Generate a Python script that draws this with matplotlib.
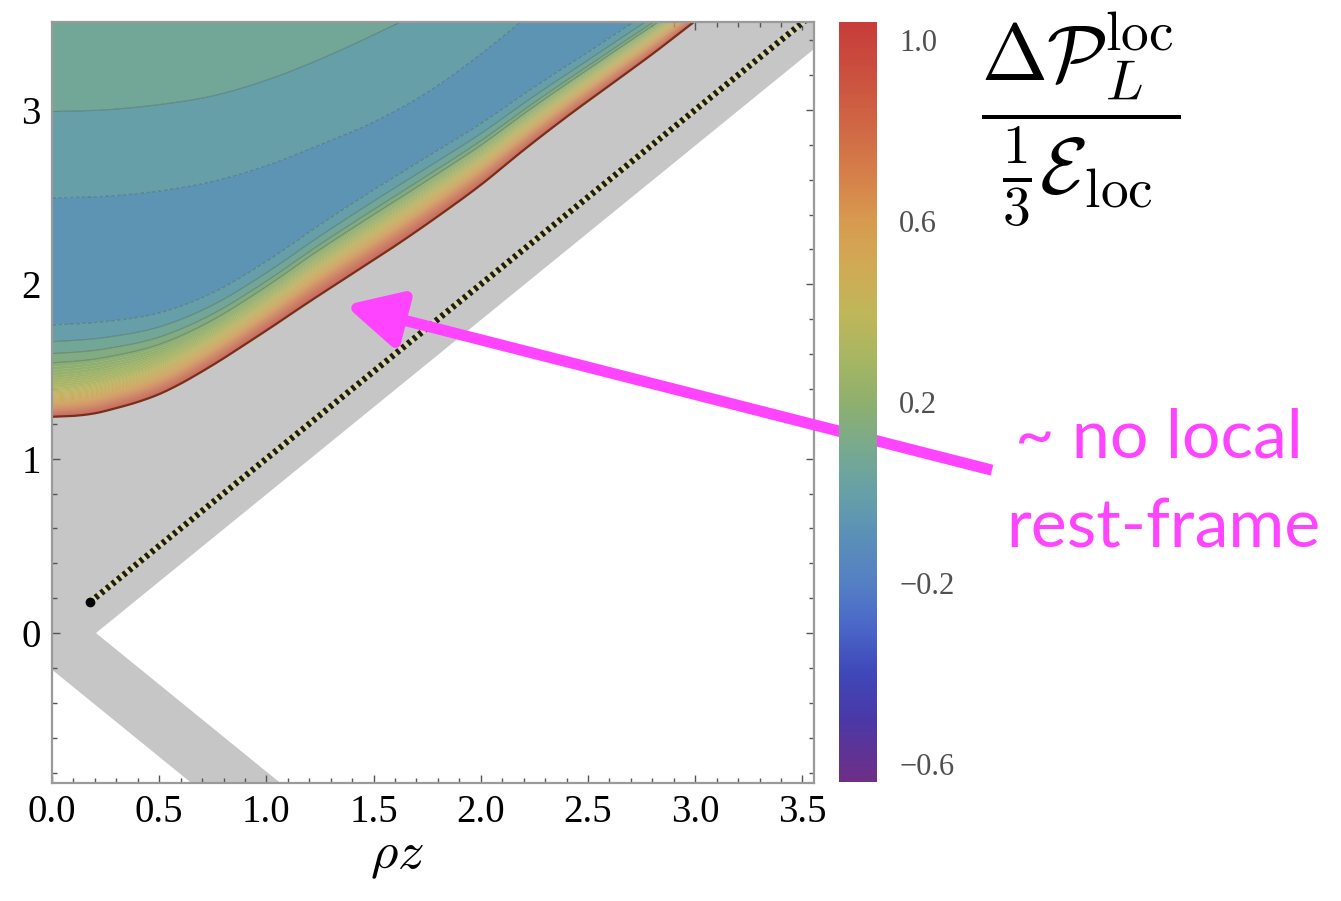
import numpy as np
import matplotlib
matplotlib.use('Agg')
import matplotlib.pyplot as plt
from matplotlib.colors import LinearSegmentedColormap, Normalize
from matplotlib.cm import ScalarMappable

plt.rcParams['mathtext.fontset'] = 'cm'

# ---------------- data ----------------
x_ticks = [0.0, 0.5, 1.0, 1.5, 2.0, 2.5, 3.0, 3.5]
y_ticks = [0, 1, 2, 3]
cbar_ticks = [1.0, 0.6, 0.2, -0.2, -0.6]
cbar_min, cbar_max = -0.64, 1.04
x_range = (0.0, 3.554)
y_range = (-0.86, 3.504)

# edge of the coloured region (value ~1)
bnd_x = [0.0, 0.1, 0.2, 0.3, 0.4, 0.5, 0.6, 0.7, 0.8, 0.9, 1.0, 1.2, 1.4, 1.6,
         1.8, 2.0, 2.2, 2.4, 2.6, 2.8, 3.0, 3.2, 3.6]
bnd_y = [1.24, 1.245, 1.26, 1.29, 1.325, 1.37, 1.43, 1.50, 1.575, 1.655, 1.735,
         1.90, 2.06, 2.22, 2.39, 2.57, 2.77, 2.96, 3.14, 3.32, 3.51, 3.70, 4.07]

# contour curves (x samples shared)
curve_x = [0.0, 0.25, 0.5, 0.75, 1.0, 1.25, 1.5, 1.75, 2.0, 2.25, 2.5, 2.75,
           3.0, 3.25, 3.5, 3.75]
curveC_y = [1.765, 1.785, 1.835, 1.95, 2.13, 2.34, 2.54, 2.73, 2.92, 3.13, 3.33,
            3.53, 3.72, 3.92, 4.12, 4.32]          # lower edge of blue band
curveB_y = [2.495, 2.505, 2.535, 2.59, 2.68, 2.80, 2.93, 3.10, 3.32, 3.57, 3.81,
            4.05, 4.30, 4.55, 4.80, 5.05]          # upper edge of blue band
curveA_y = [2.99, 3.00, 3.03, 3.08, 3.17, 3.29, 3.43, 3.58, 3.74, 3.90, 4.06,
            4.22, 4.38, 4.54, 4.70, 4.86]          # teal / green edge

# profile of the steep rise between the edge and curve C
grad_vals = [1.02, 0.90, 0.78, 0.66, 0.54, 0.43, 0.33, 0.24, 0.17, 0.10, 0.03, -0.04]
grad_fracs_left = [0.0, 0.025, 0.06, 0.10, 0.16, 0.24, 0.32, 0.44, 0.59, 0.69, 0.82, 1.0]
grad_fracs_right = [0.0, 0.05, 0.12, 0.20, 0.29, 0.38, 0.47, 0.56, 0.65, 0.72, 0.84, 1.0]
grad_blend_x = 1.2
band_min_val = -0.09
curveB_val = -0.04
curveA_val = 0.03
top_val = 0.075
top_offset = 0.6

fill_levels = [-0.11, -0.04, 0.03, 0.10, 0.17]
line_levels = [-0.04, 0.03, 0.10, 0.17]

# gray / white regions
wedge_vertex = 0.205
lower_band_offset = 0.21
dotted_start = 0.177
dotted_end = 3.6

# colour scale
cmap_vals = [-0.64, -0.5, -0.4, -0.3, -0.2, -0.1, 0.0, 0.1, 0.2, 0.3, 0.4, 0.5,
             0.6, 0.7, 0.8, 0.9, 1.04]
cmap_cols = ['#6e2f86', '#4a38a8', '#3f48b8', '#4a66c8', '#5580c4', '#5a8fb8',
             '#67a0a6', '#78aa8e', '#8fb06e', '#a8b662', '#c0b65a', '#d0aa55',
             '#d89a50', '#d6804a', '#d06a45', '#cc5540', '#c83c3a']

arrow_tip = (1.367, 1.88)
arrow_tail = (4.384, 0.934)
magenta = '#ff44ff'
gray = '#c6c6c6'


def smooth_interp(xq, xp, yp):
    """Cubic Hermite curve through the read points (for smooth rendering)."""
    xp = np.asarray(xp, float)
    yp = np.asarray(yp, float)
    m = np.gradient(yp, xp)
    xq = np.atleast_1d(np.asarray(xq, float))
    i = np.clip(np.searchsorted(xp, xq) - 1, 0, len(xp) - 2)
    h = xp[i + 1] - xp[i]
    t = (xq - xp[i]) / h
    h00 = 2 * t**3 - 3 * t**2 + 1
    h10 = t**3 - 2 * t**2 + t
    h01 = -2 * t**3 + 3 * t**2
    h11 = t**3 - t**2
    return h00 * yp[i] + h10 * h * m[i] + h01 * yp[i + 1] + h11 * h * m[i + 1]


# ---------------- figure ----------------
W, H = 1341, 901
fig = plt.figure(figsize=(W / 100, H / 100), dpi=100)
ax = fig.add_axes([52 / W, 1 - 783 / H, (814 - 52) / W, (783 - 22) / H])
ax.set_facecolor(gray)

pos = [(v - cbar_min) / (cbar_max - cbar_min) for v in cmap_vals]
cmap = LinearSegmentedColormap.from_list('rb', list(zip(pos, cmap_cols)))
norm = Normalize(cbar_min, cbar_max)

# white regions
far = 8.0
ax.fill([wedge_vertex, far, far], [0, far - wedge_vertex, -(far - wedge_vertex)],
        color='white', lw=0, zorder=1)
ax.fill([-far, far, -far], [far - lower_band_offset, -far - lower_band_offset,
                            -far - lower_band_offset],
        color='white', lw=0, zorder=1)

# field
gx = np.linspace(0, 3.6, 720)
gy = np.linspace(-0.9, 3.6, 1100)
B_ = smooth_interp(gx, bnd_x, bnd_y)
C_ = smooth_interp(gx, curve_x, curveC_y)
BB_ = smooth_interp(gx, curve_x, curveB_y)
A_ = smooth_interp(gx, curve_x, curveA_y)
Z = np.full((gy.size, gx.size), np.nan)
fl = np.array(grad_fracs_left)
frr = np.array(grad_fracs_right)
for j in range(gx.size):
    w = min(gx[j] / grad_blend_x, 1.0)
    fr = (1 - w) * fl + w * frr
    b, c, bb, a = B_[j], C_[j], BB_[j], A_[j]
    ys = list(b + fr * (c - b)) + [(c + bb) / 2, bb, a, a + top_offset]
    vals = list(grad_vals) + [band_min_val, curveB_val, curveA_val, top_val]
    col = np.interp(gy, ys, vals)
    col[gy < b] = np.nan
    Z[:, j] = col
Zm = np.ma.masked_invalid(Z)
levels = fill_levels + list(np.arange(0.19, 1.05, 0.015))
ax.contourf(gx, gy, Zm, levels=levels, cmap=cmap, norm=norm, zorder=2,
            antialiased=True)
ax.contour(gx, gy, Zm, levels=line_levels, colors='#2a3a40', linewidths=0.8,
           alpha=0.3, zorder=3)
ax.plot(gx, B_, color='#7a2e14', lw=1.6, zorder=4)

# dotted diagonal
ax.plot([dotted_start, dotted_end], [dotted_start, dotted_end], color='#ddd8a8',
        lw=4, zorder=5, solid_capstyle='butt')
ax.plot([dotted_start, dotted_end], [dotted_start, dotted_end], color='#1c1c1c',
        lw=4.5, ls=(0, (0.55, 0.6)), zorder=6)
ax.plot([dotted_start], [dotted_start], 'o', color='black', ms=6, zorder=7)

ax.set_xlim(*x_range)
ax.set_ylim(*y_range)
ax.set_xticks(x_ticks)
ax.set_xticklabels([f'{t:.1f}' for t in x_ticks])
ax.set_yticks(y_ticks)
ax.set_yticklabels([str(t) for t in y_ticks])
ax.set_xticks(np.arange(0, 3.55, 0.1), minor=True)
ax.set_yticks(np.arange(-0.8, 3.5, 0.2), minor=True)
ax.tick_params(which='both', direction='in', top=True, right=True, color='#555555',
               width=1)
ax.tick_params(which='major', length=6, labelsize=28, pad=8)
ax.tick_params(which='minor', length=3.5)
for lab in ax.get_xticklabels() + ax.get_yticklabels():
    lab.set_family('Liberation Serif')
for s in ax.spines.values():
    s.set_color('#9a9a9a')
    s.set_linewidth(1.6)
    s.set_zorder(8)
ax.set_xlabel(r'$\rho z$', fontsize=38)
ax.xaxis.set_label_coords(0.453, -0.06)

# colour bar
cax = fig.add_axes([839 / W, 1 - 782 / H, 38 / W, 760 / H])
cb = fig.colorbar(ScalarMappable(norm=norm, cmap=cmap), cax=cax)
cb.outline.set_visible(False)
cb.set_ticks(cbar_ticks)
cb.set_ticklabels([f'{t:.1f}'.replace('-', '\u2212') for t in cbar_ticks])
cax.tick_params(length=0, labelsize=22, pad=16, labelcolor='#505050')
for lab in cax.get_yticklabels():
    lab.set_family('Liberation Serif')

# formula label
fig.text(1081 / W, 1 - 119 / H,
         r'$\dfrac{\Delta\mathcal{P}_L^{\rm loc}}{\frac{1}{3}\mathcal{E}_{\rm loc}}$',
         fontsize=57, ha='center', va='center')

# annotation
ax.annotate('', xy=arrow_tip, xytext=arrow_tail, xycoords='data',
            textcoords='data', annotation_clip=False,
            arrowprops=dict(arrowstyle='-|>,head_length=33,head_width=17',
                            lw=8, color=magenta, shrinkA=0, shrinkB=0,
                            mutation_scale=1, capstyle='butt'),
            zorder=10)
fig.text(1015 / W, 1 - 457 / H, '~ no local', color=magenta, fontsize=49,
         family='Lato', va='baseline', ha='left')
fig.text(1006 / W, 1 - 547 / H, 'rest-frame', color=magenta, fontsize=49,
         family='Lato', va='baseline', ha='left')

fig.savefig('out.png', dpi=100)
